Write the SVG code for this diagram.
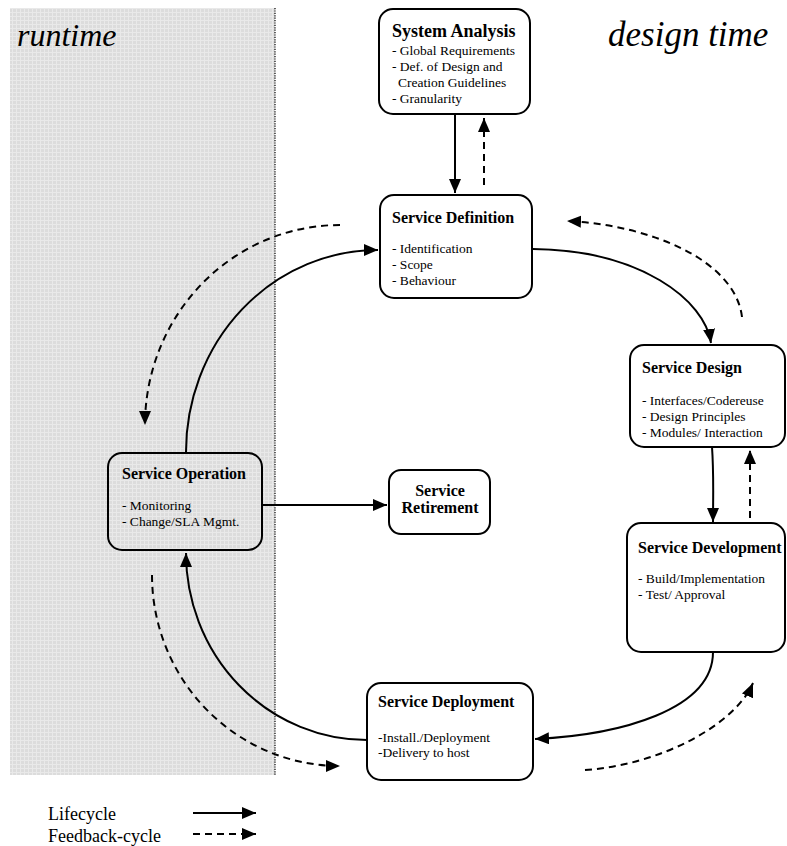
<svg xmlns="http://www.w3.org/2000/svg" width="787" height="846" viewBox="0 0 787 846">
<defs>
<pattern id="grid" width="4" height="4" patternUnits="userSpaceOnUse">
<rect width="4" height="4" fill="#dcdcdc"/>
<path d="M0,0.5H4M0.5,0V4" stroke="#e9e9e9" stroke-width="1"/>
</pattern>
<marker id="ah" markerUnits="userSpaceOnUse" markerWidth="16" markerHeight="14" refX="14" refY="6" orient="auto">
<path d="M0,0 L14,6 L0,12 Z" fill="#000"/>
</marker>
</defs>
<style>
.box{fill:#fff;stroke:#000;stroke-width:2}
.opbox{fill:url(#grid);stroke:#000;stroke-width:2}
.t{font-family:"Liberation Serif","Times New Roman",serif;font-weight:bold;font-size:16px;fill:#000}
.i{font-family:"Liberation Serif","Times New Roman",serif;font-size:13.5px;fill:#000}
.big{font-family:"Liberation Serif","Times New Roman",serif;font-style:italic;font-size:32px;fill:#000}
.leg{font-family:"Liberation Serif","Times New Roman",serif;font-size:18px;fill:#000}
.s{fill:none;stroke:#000;stroke-width:2}
.d{fill:none;stroke:#000;stroke-width:2;stroke-dasharray:7,5}
</style>
<rect x="10" y="8" width="265" height="767" fill="url(#grid)"/>
<line x1="275" y1="8" x2="275" y2="775" stroke="#000" stroke-width="1.2" stroke-dasharray="1.2,1.2"/>
<text class="big" x="17" y="46">runtime</text>
<text class="big" x="608" y="46" style="font-size:35px">design time</text>
<g id="connectors">
<path class="s" d="M455,115 L455,193" marker-end="url(#ah)"/>
<path class="d" d="M484,185 L484,118" marker-end="url(#ah)"/>
<path class="s" d="M533,249 C640,250 705,300 711,343" marker-end="url(#ah)"/>
<path class="d" d="M742,317 C735,260 650,225 567,221" marker-end="url(#ah)"/>
<path class="s" d="M712,447 C714,475 713,500 713,522" marker-end="url(#ah)"/>
<path class="d" d="M750,518 L750,450" marker-end="url(#ah)"/>
<path class="s" d="M713,652 C713,710 620,735 535,739" marker-end="url(#ah)"/>
<path class="d" d="M585,770 C660,765 735,725 753,683" marker-end="url(#ah)"/>
<path class="s" d="M367,740 A181,187 0 0 1 186,553" marker-end="url(#ah)"/>
<path class="s" d="M186,452 A192,202 0 0 1 378,250" marker-end="url(#ah)"/>
<path class="d" d="M340,225 A195,200 0 0 0 145,425" marker-end="url(#ah)"/>
<path class="d" d="M152,575 A188,191 0 0 0 340,766" marker-end="url(#ah)"/>
<path class="s" d="M262,505 L387,505" marker-end="url(#ah)"/>
</g>
<g id="system-analysis">
<rect class="box" x="379" y="9" width="151" height="105" rx="14"/>
<text class="t" x="392" y="37" style="font-size:18px">System Analysis</text>
<text class="i" x="392" y="55">- Global Requirements</text>
<text class="i" x="392" y="71">- Def. of Design and</text>
<text class="i" x="398" y="87">Creation Guidelines</text>
<text class="i" x="392" y="103">- Granularity</text>
</g>
<g id="service-definition">
<rect class="box" x="380" y="195" width="152" height="103" rx="14"/>
<text class="t" x="392" y="223">Service Definition</text>
<text class="i" x="392" y="253">- Identification</text>
<text class="i" x="392" y="269">- Scope</text>
<text class="i" x="392" y="285">- Behaviour</text>
</g>
<g id="service-design">
<rect class="box" x="630" y="345" width="155" height="102" rx="14"/>
<text class="t" x="642" y="373">Service Design</text>
<text class="i" x="642" y="405">- Interfaces/Codereuse</text>
<text class="i" x="642" y="421">- Design Principles</text>
<text class="i" x="642" y="437">- Modules/ Interaction</text>
</g>
<g id="service-development">
<rect class="box" x="627" y="523" width="158" height="129" rx="14"/>
<text class="t" x="638" y="553">Service Development</text>
<text class="i" x="638" y="583">- Build/Implementation</text>
<text class="i" x="638" y="599">- Test/ Approval</text>
</g>
<g id="service-operation">
<rect class="opbox" x="108" y="453" width="154" height="97" rx="14"/>
<text class="t" x="122" y="479">Service Operation</text>
<text class="i" x="122" y="510">- Monitoring</text>
<text class="i" x="122" y="526">- Change/SLA Mgmt.</text>
</g>
<g id="service-retirement">
<rect class="box" x="389" y="470" width="101" height="64" rx="12"/>
<text class="t" x="440" y="496" text-anchor="middle">Service</text>
<text class="t" x="440" y="513" text-anchor="middle">Retirement</text>
</g>
<g id="service-deployment">
<rect class="box" x="367" y="683" width="166" height="97" rx="14"/>
<text class="t" x="378" y="707">Service Deployment</text>
<text class="i" x="378" y="742">-Install./Deployment</text>
<text class="i" x="378" y="757">-Delivery to host</text>
</g>
<g id="legend">
<text class="leg" x="48" y="820">Lifecycle</text>
<text class="leg" x="48" y="842">Feedback-cycle</text>
<path class="s" d="M193,813 L256,813" marker-end="url(#ah)"/>
<path class="d" d="M193,834 L256,834" marker-end="url(#ah)"/>
</g>
</svg>
